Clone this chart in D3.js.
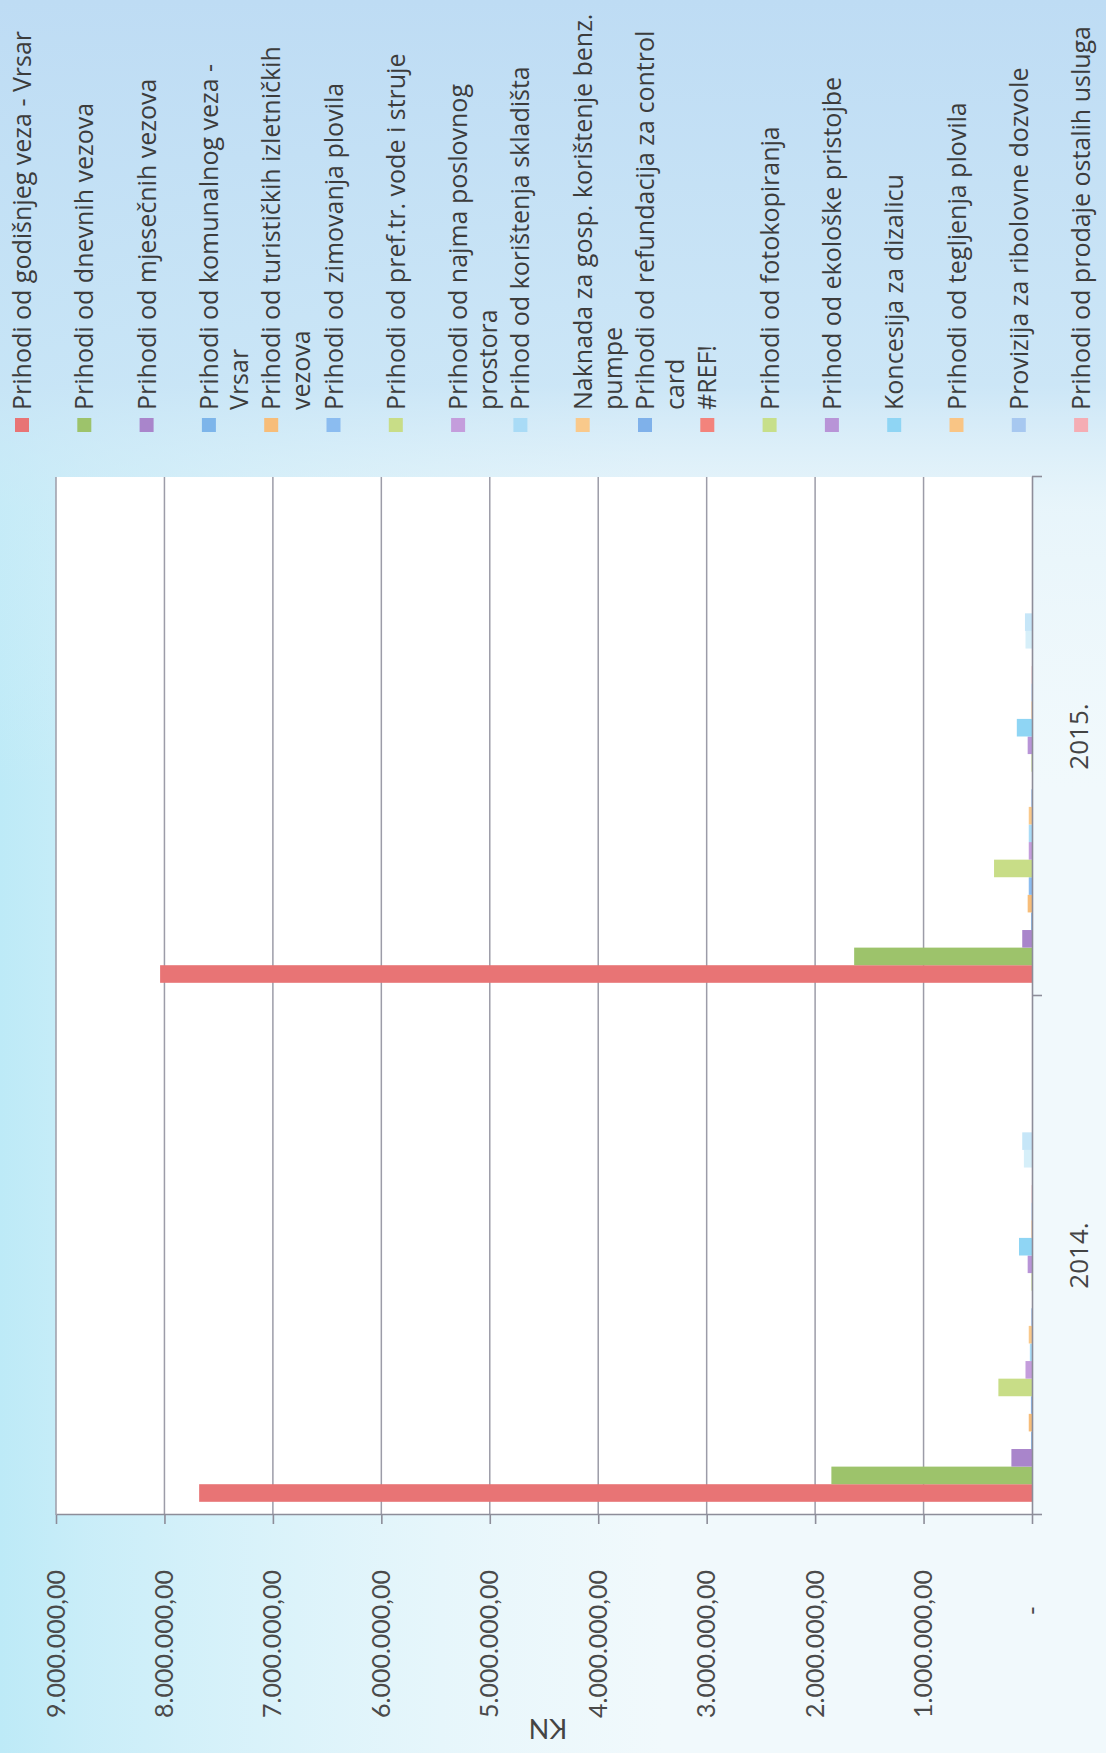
<!DOCTYPE html>
<html>
<head>
<meta charset="utf-8">
<script src="https://cdn.jsdelivr.net/npm/d3@7"></script>
<style>
  html, body { margin: 0; padding: 0; background: #eef8fc; }
  .chart { width: 1106px; height: 1753px; overflow: hidden; }
  .axis path, .axis line { stroke: #8d8d99; stroke-width: 1.6; }
  .legend text { font-family: "Open Sans", sans-serif; font-size: 25px; fill: #3c3c3c; }
</style>
</head>
<body>
<div class="chart"></div>
<script>
// Data

const years = ["2014.", "2015."];

const seriesNames = [
  "Prihodi od godišnjeg veza - Vrsar",
  "Prihodi od dnevnih vezova",
  "Prihodi od mjesečnih vezova",
  "Prihodi od komunalnog veza - Vrsar",
  "Prihodi od turističkih izletničkih vezova",
  "Prihodi od zimovanja plovila",
  "Prihodi od pref.tr. vode i struje",
  "Prihodi od najma poslovnog prostora",
  "Prihod od korištenja skladišta",
  "Naknada za gosp. korištenje benz. pumpe",
  "Prihodi od refundacija za control card",
  "#REF!",
  "Prihodi od fotokopiranja",
  "Prihod od ekološke pristojbe",
  "Koncesija za dizalicu",
  "Prihodi od tegljenja plovila",
  "Provizija za ribolovne dozvole",
  "Prihodi od prodaje ostalih usluga",
];

// 28 series in the chart, only the first 18 fit in the legend
const seriesColors = [
  "#e87475", "#9dc36b", "#a985cb", "#7db5ea", "#f7bd79", "#8bbcf0",
  "#c8dd87", "#c49ddc", "#a9dbf6", "#f9c98b", "#7fb1ea", "#f3837c",
  "#c7df8a", "#b894d7", "#8fd5f4", "#f9c585", "#a7c8f0", "#f5adb4",
  "#d9ebc2", "#d6eff9", "#c6e6f8", "#e3d3ef", "#fbdcb6", "#cfe0f7",
  "#f8c9c6", "#e1efc4", "#d8c8ea", "#c9ecf9",
];

const values2014 = [
  7680000, 1850000, 190000, 8000, 30000, 10000, 310000, 60000, 20000, 30000,
  5000, 0, 5000, 40000, 120000, 5000, 4000, 3000, 0, 75000,
  90000, 0, 0, 0, 0, 0, 0, 0,
];

const values2015 = [
  8040000, 1640000, 90000, 8000, 40000, 30000, 350000, 30000, 30000, 30000,
  5000, 0, 5000, 40000, 140000, 5000, 4000, 3000, 0, 60000,
  65000, 0, 0, 0, 0, 0, 0, 0,
];

const yTicks = [0, 1000000, 2000000, 3000000, 4000000, 5000000, 6000000, 7000000, 8000000, 9000000];

const yTitle = "KN";

// Measurements (the page is a scan of a chart turned on its side)

const W = 1106;
const H = 1753;
const plot = { left: 238, right: 1276, top: 56, bottom: 1032 };

const svg = d3
  .select(".chart")
  .append("svg")
  .attr("width", W)
  .attr("height", H);

// Background of the scanned page

const defs = svg.append("defs");

const leftGrad = defs
  .append("linearGradient")
  .attr("id", "bgLeft")
  .attr("x1", 0).attr("x2", 1).attr("y1", 0).attr("y2", 0);
leftGrad.append("stop").attr("offset", 0).attr("stop-color", "#bdeaf7").attr("stop-opacity", 1);
leftGrad.append("stop").attr("offset", 0.08).attr("stop-color", "#c5ecf8").attr("stop-opacity", 0.9);
leftGrad.append("stop").attr("offset", 0.6).attr("stop-color", "#d9f3fa").attr("stop-opacity", 0);

const topGrad = defs
  .append("linearGradient")
  .attr("id", "bgTop")
  .attr("x1", 0).attr("x2", 0).attr("y1", 0).attr("y2", 1);
topGrad.append("stop").attr("offset", 0).attr("stop-color", "#bedcf4").attr("stop-opacity", 1);
topGrad.append("stop").attr("offset", 0.22).attr("stop-color", "#c8e4f6").attr("stop-opacity", 0.9);
topGrad.append("stop").attr("offset", 0.29).attr("stop-color", "#d6edf8").attr("stop-opacity", 0.35);
topGrad.append("stop").attr("offset", 0.45).attr("stop-color", "#e4f4fb").attr("stop-opacity", 0);

svg.append("rect").attr("width", W).attr("height", H).attr("fill", "#f1f9fc");
svg.append("rect").attr("width", W).attr("height", H).attr("fill", "url(#bgLeft)");
svg.append("rect").attr("width", W).attr("height", H).attr("fill", "url(#bgTop)");

// Chart group, rotated a quarter turn counter-clockwise

const g = svg
  .append("g")
  .attr("transform", `translate(0, ${H}) rotate(-90)`);

// Scales

const x0 = d3.scaleBand().domain(years).range([plot.left, plot.right]);

const x1 = d3
  .scaleBand()
  .domain(d3.range(seriesColors.length))
  .range([0, x0.bandwidth()])
  .paddingOuter(0.75);

const y = d3
  .scaleLinear()
  .domain([0, 9000000])
  .range([plot.bottom, plot.top]);

const locale = d3.formatLocale({ decimal: ",", thousands: ".", grouping: [3], currency: ["", ""] });
const fmt = locale.format(",.2f");

// Plot area and gridlines

g.append("rect")
  .attr("x", plot.left)
  .attr("y", plot.top)
  .attr("width", plot.right - plot.left)
  .attr("height", plot.bottom - plot.top)
  .attr("fill", "#ffffff");

g.selectAll(".grid")
  .data(yTicks.filter((d) => d > 0))
  .join("line")
  .attr("class", "grid")
  .attr("x1", plot.left)
  .attr("x2", plot.right)
  .attr("y1", (d) => y(d))
  .attr("y2", (d) => y(d))
  .attr("stroke", "#9c9ca8")
  .attr("stroke-width", 1.5);

// Bars

const tableByYear = [values2014, values2015];

const groups = g
  .selectAll(".year")
  .data(years)
  .join("g")
  .attr("class", "year")
  .attr("transform", (d) => `translate(${x0(d)}, 0)`);

groups
  .selectAll("rect")
  .data((d, i) => tableByYear[i].map((v, s) => ({ s: s, v: v })))
  .join("rect")
  .attr("x", (d) => x1(d.s))
  .attr("y", (d) => y(d.v))
  .attr("width", x1.bandwidth())
  .attr("height", (d) => plot.bottom - y(d.v))
  .attr("fill", (d) => seriesColors[d.s]);

// Value axis

const yAxis = g
  .append("g")
  .attr("class", "axis")
  .attr("transform", `translate(${plot.left}, 0)`)
  .call(
    d3
      .axisLeft(y)
      .tickValues(yTicks)
      .tickFormat((d) => (d === 0 ? "-" : fmt(d)))
      .tickSize(9)
      .tickSizeOuter(0)
      .tickPadding(46)
  );

yAxis
  .selectAll("text")
  .attr("font-family", "Lato, sans-serif")
  .attr("font-size", 25)
  .attr("fill", "#4a4a4a");

yAxis
  .selectAll(".tick text")
  .filter((d) => d === 0)
  .attr("x", -91);

// Category axis: ticks between the categories, labels in the middle

const xEdges = d3
  .scaleLinear()
  .domain([0, years.length])
  .range([plot.left, plot.right]);

g.append("g")
  .attr("class", "axis")
  .attr("transform", `translate(0, ${plot.bottom})`)
  .call(
    d3
      .axisBottom(xEdges)
      .tickValues(d3.range(years.length + 1))
      .tickFormat("")
      .tickSize(10)
      .tickSizeOuter(0)
  );

const xLabels = g
  .append("g")
  .attr("transform", `translate(0, ${plot.bottom})`)
  .call(d3.axisBottom(x0).tickSize(0).tickPadding(38));

xLabels.select(".domain").remove();
xLabels
  .selectAll("text")
  .attr("font-family", "'Open Sans', sans-serif")
  .attr("font-size", 26)
  .attr("fill", "#444");

// Axis title

g.append("text")
  .attr("transform", `translate(25, 548) rotate(-90)`)
  .attr("text-anchor", "middle")
  .attr("dy", "0.35em")
  .attr("font-family", "Lato, sans-serif")
  .attr("font-size", 27)
  .attr("fill", "#444")
  .text(yTitle);

// Legend

const legendX = 1321;
const legendTop = 22;
const legendStep = 62.3;
const legendMaxWidth = 410;

const legend = g.append("g").attr("class", "legend");

const items = legend
  .selectAll("g")
  .data(seriesNames)
  .join("g")
  .attr("transform", (d, i) => `translate(${legendX}, ${legendTop + i * legendStep})`);

items
  .append("rect")
  .attr("x", 0)
  .attr("y", -7)
  .attr("width", 14)
  .attr("height", 14)
  .attr("fill", (d, i) => seriesColors[i]);

items.each(function (name) {
  const text = d3.select(this).append("text").attr("x", 22).attr("y", 9);
  const words = name.split(" ");
  let line = [];
  let tspan = text.append("tspan").attr("x", 22).attr("dy", 0);
  words.forEach((w) => {
    line.push(w);
    tspan.text(line.join(" "));
    if (tspan.node().getComputedTextLength() > legendMaxWidth && line.length > 1) {
      line.pop();
      tspan.text(line.join(" "));
      line = [w];
      tspan = text.append("tspan").attr("x", 22).attr("dy", 30).text(w);
    }
  });
});
</script>
</body>
</html>
